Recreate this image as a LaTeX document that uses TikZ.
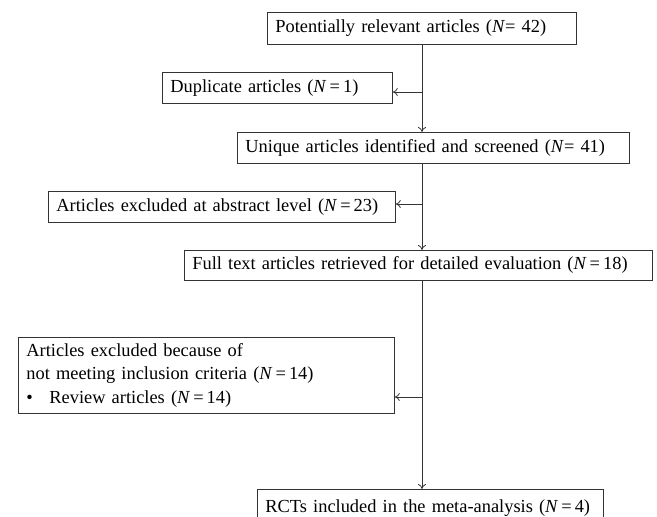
\documentclass[tikz,border=0pt]{standalone}
\usepackage{fontspec}
\setmainfont{Liberation Serif}
\usetikzlibrary{arrows.meta}
\tikzset{
  x=1pt, y=-1pt,
  flowbox/.style={draw=black!80, line width=0.8pt, anchor=north west, inner xsep=8pt, inner ysep=0pt,
    align=left, font=\fontsize{18.4}{23.5}\selectfont},
  link/.style={draw=black!80, line width=0.8pt, -{To[length=5pt,width=8pt]}},
  plain/.style={draw=black!80, line width=0.8pt}
}
\newcommand{\NN}{\textit{N}}
\begin{document}
\begin{tikzpicture}
\useasboundingbox (0,0) rectangle (657,517);
\clip (0,0) rectangle (657,517);
\node[flowbox, text width=293pt, minimum height=32pt] (b1) at (267,12) {Potentially relevant articles (\NN= 42)};
\node[flowbox, text width=214pt, minimum height=31pt] (b2) at (162,72) {Duplicate articles (\NN\,=\,1)};
\node[flowbox, text width=376pt, minimum height=31pt] (b3) at (237,132) {Unique articles identified and screened (\NN= 41)};
\node[flowbox, text width=331pt, minimum height=31pt] (b4) at (48,191) {Articles excluded at abstract level (\NN\,=\,23)};
\node[flowbox, text width=452pt, minimum height=30pt] (b5) at (184,250) {Full text articles retrieved for detailed evaluation (\NN\,=\,18)};
\node[flowbox, text width=360pt, minimum height=76pt] (b6) at (18,337) {Articles excluded because of\\not meeting inclusion criteria (\NN\,=\,14)\\\makebox[23pt][l]{\textbullet}Review articles (\NN\,=\,14)};
\node[flowbox, text width=330pt, minimum height=40pt] (b7) at (257,489) {\raisebox{7pt}{RCTs included in the meta-analysis (\NN\,=\,4)}};
\coordinate (j1) at (422,92);
\coordinate (j2) at (422,204);
\coordinate (j3) at (422,397);
\draw[plain] (b1.south -| j1) -- (j1);
\draw[link] (j1) -- (b3.north -| j1);
\draw[link] (j1) -- (b2.east |- j1);
\draw[plain] (b3.south -| j2) -- (j2);
\draw[link] (j2) -- (b5.north -| j2);
\draw[link] (j2) -- (b4.east |- j2);
\draw[plain] (b5.south -| j3) -- (j3);
\draw[link] (j3) -- (b7.north -| j3);
\draw[link] (j3) -- (b6.east |- j3);
\end{tikzpicture}
\end{document}
